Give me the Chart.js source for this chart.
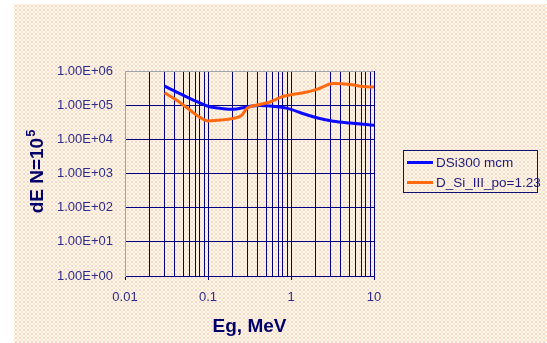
<!DOCTYPE html>
<html>
<head>
<meta charset="utf-8">
<script src="https://cdn.jsdelivr.net/npm/chart.js@4.4.1/dist/chart.umd.min.js"></script>
<style>
  html, body { margin:0; padding:0; background:#ffffff; }
  #wrap { position:relative; width:547px; height:343px; overflow:hidden; }
  #bg { position:absolute; left:14px; top:4px; right:0; bottom:0;
        background-color:#fff9ee;
        background-image:
          radial-gradient(circle, rgba(240,185,170,0.55) 0.7px, transparent 1px),
          radial-gradient(circle, rgba(245,210,165,0.5) 0.7px, transparent 1px);
        background-size:4px 4px, 4px 4px;
        background-position:0 0, 2px 2px; }
  canvas { position:absolute; left:0; top:0; }
</style>
</head>
<body>
<div id="wrap"><div id="bg"></div><canvas id="c" width="547" height="343"></canvas></div>
<script>
// ---- data ----
const seriesNames = ['DSi300 mcm', 'D_Si_III_po=1.23'];
const blueX = [0.03, 0.042, 0.061, 0.08, 0.1, 0.153, 0.202, 0.292, 0.423, 0.558, 0.81, 1.02, 1.41, 2.04, 3.24, 5.13, 10];
const blueY = [3.6e5, 2.4e5, 1.56e5, 1.16e5, 9.3e4, 7.9e4, 7.6e4, 8.9e4, 9.8e4, 9.5e4, 8.5e4, 7.4e4, 5.6e4, 4.3e4, 3.4e4, 3.0e4, 2.6e4];
const orangeX = [0.03, 0.042, 0.061, 0.08, 0.1, 0.127, 0.202, 0.255, 0.292, 0.423, 0.558, 0.81, 1.02, 1.41, 2.04, 3.24, 5.13, 7.4, 10];
const orangeY = [2.3e5, 1.39e5, 7.1e4, 4.4e4, 3.45e4, 3.6e4, 4.1e4, 5.0e4, 7.9e4, 1.05e5, 1.24e5, 1.82e5, 2.04e5, 2.3e5, 2.9e5, 4.3e5, 4.0e5, 3.5e5, 3.4e5];
const xTickLabels = ['0.01', '0.1', '1', '10'];
const yTickLabels = ['1.00E+00', '1.00E+01', '1.00E+02', '1.00E+03', '1.00E+04', '1.00E+05', '1.00E+06'];
const xAxisTitle = 'Eg, MeV';
const yAxisTitleMain = 'dE N=10';
const yAxisTitleSup = '5';

// ---- helpers ----
const xDecades = xTickLabels.map(Number);
const xTickValues = [];
xDecades.forEach((d, i) => {
  if (i < xDecades.length - 1) { for (let m = 1; m <= 9; m++) xTickValues.push(+(d * m).toPrecision(3)); }
  else xTickValues.push(d);
});
const yTickValues = yTickLabels.map(Number);
const isDecade = v => xDecades.some(d => Math.abs(d - v) < 1e-9);

const NAVY = '#000080';
const GREY = '#a0a0a8';
const TEXT = '#2c2c8c';
const TITLE = '#00006a';
const BLUE = '#0a0aff';
const ORANGE = '#ff6a10';

const overlay = {
  id: 'overlay',
  afterDraw(chart) {
    const ctx = chart.ctx;
    ctx.save();
    ctx.fillStyle = TITLE;
    ctx.font = 'bold 19px "Liberation Sans", Arial, sans-serif';
    ctx.textAlign = 'center';
    ctx.textBaseline = 'middle';
    const ca = chart.chartArea;
    ctx.fillText(xAxisTitle, (ca.left + ca.right) / 2, 327);
    ctx.translate(43, 172);
    ctx.rotate(-Math.PI / 2);
    ctx.textBaseline = 'alphabetic';
    ctx.textAlign = 'left';
    ctx.font = 'bold 19px "Liberation Sans", Arial, sans-serif';
    const wMain = ctx.measureText(yAxisTitleMain).width;
    ctx.font = 'bold 13px "Liberation Sans", Arial, sans-serif';
    const wSup = ctx.measureText(yAxisTitleSup).width;
    const start = -(wMain + wSup) / 2;
    ctx.font = 'bold 19px "Liberation Sans", Arial, sans-serif';
    ctx.fillText(yAxisTitleMain, start, 0);
    ctx.font = 'bold 13px "Liberation Sans", Arial, sans-serif';
    ctx.fillText(yAxisTitleSup, start + wMain + 1, -8);
    ctx.restore();

    ctx.save();
    ctx.strokeStyle = '#101070';
    ctx.lineWidth = 1;
    ctx.strokeRect(403.5, 150.5, 134, 42);
    ctx.font = '13.5px "Liberation Sans", Arial, sans-serif';
    ctx.textAlign = 'left';
    ctx.textBaseline = 'middle';
    const rows = [162.5, 182.5];
    chart.data.datasets.forEach((ds, i) => {
      ctx.strokeStyle = ds.borderColor;
      ctx.lineWidth = 3;
      ctx.beginPath();
      ctx.moveTo(407, rows[i]);
      ctx.lineTo(433, rows[i]);
      ctx.stroke();
      ctx.fillStyle = '#1c1c7c';
      ctx.fillText(ds.label, 436, rows[i] + 0.5);
    });
    ctx.restore();
  }
};

new Chart(document.getElementById('c'), {
  type: 'line',
  data: {
    datasets: [
      { label: seriesNames[0], data: blueX.map((x, i) => ({ x, y: blueY[i] })),
        borderColor: BLUE, borderWidth: 3, pointRadius: 0, tension: 0.4,
        cubicInterpolationMode: 'monotone', fill: false, order: 1 },
      { label: seriesNames[1], data: orangeX.map((x, i) => ({ x, y: orangeY[i] })),
        borderColor: ORANGE, borderWidth: 3, pointRadius: 0, tension: 0.4,
        cubicInterpolationMode: 'monotone', fill: false, order: 0 }
    ]
  },
  options: {
    responsive: false,
    animation: false,
    events: [],
    layout: { padding: { top: 71, right: 173, bottom: 0, left: 0 } },
    plugins: { legend: { display: false }, tooltip: { enabled: false }, title: { display: false } },
    scales: {
      x: {
        type: 'logarithmic',
        min: xDecades[0], max: xDecades[xDecades.length - 1],
        afterBuildTicks: s => { s.ticks = xTickValues.map(v => ({ value: v })); },
        afterFit: s => { s.height = 67; },
        ticks: {
          autoSkip: false, maxRotation: 0, padding: 10,
          color: TEXT, font: { family: '"Liberation Sans", Arial, sans-serif', size: 13 },
          callback: v => { const i = xDecades.findIndex(d => Math.abs(d - v) < 1e-9); return i >= 0 ? xTickLabels[i] : ''; }
        },
        grid: {
          drawTicks: true, tickLength: 4, lineWidth: 1,
          color: c => (c.tick && Math.abs(c.tick.value - xDecades[0]) < 1e-9) ? GREY : NAVY,
          tickColor: c => (c.tick && isDecade(c.tick.value)) ? NAVY : 'transparent'
        },
        border: { display: true, color: NAVY, width: 1 }
      },
      y: {
        type: 'logarithmic',
        min: yTickValues[0], max: yTickValues[yTickValues.length - 1],
        afterBuildTicks: s => { s.ticks = yTickValues.map(v => ({ value: v })); },
        afterFit: s => { s.width = 125; },
        ticks: {
          autoSkip: false, padding: 12,
          color: TEXT, font: { family: '"Liberation Sans", Arial, sans-serif', size: 13 },
          callback: v => { const i = yTickValues.findIndex(d => Math.abs(d - v) < 1e-6 * d); return i >= 0 ? yTickLabels[i] : ''; }
        },
        grid: {
          drawTicks: false, lineWidth: 1,
          color: c => (c.tick && c.tick.value === yTickValues[yTickValues.length - 1]) ? GREY : NAVY
        },
        border: { display: true, color: GREY, width: 1 }
      }
    }
  },
  plugins: [overlay]
});
</script>
</body>
</html>
